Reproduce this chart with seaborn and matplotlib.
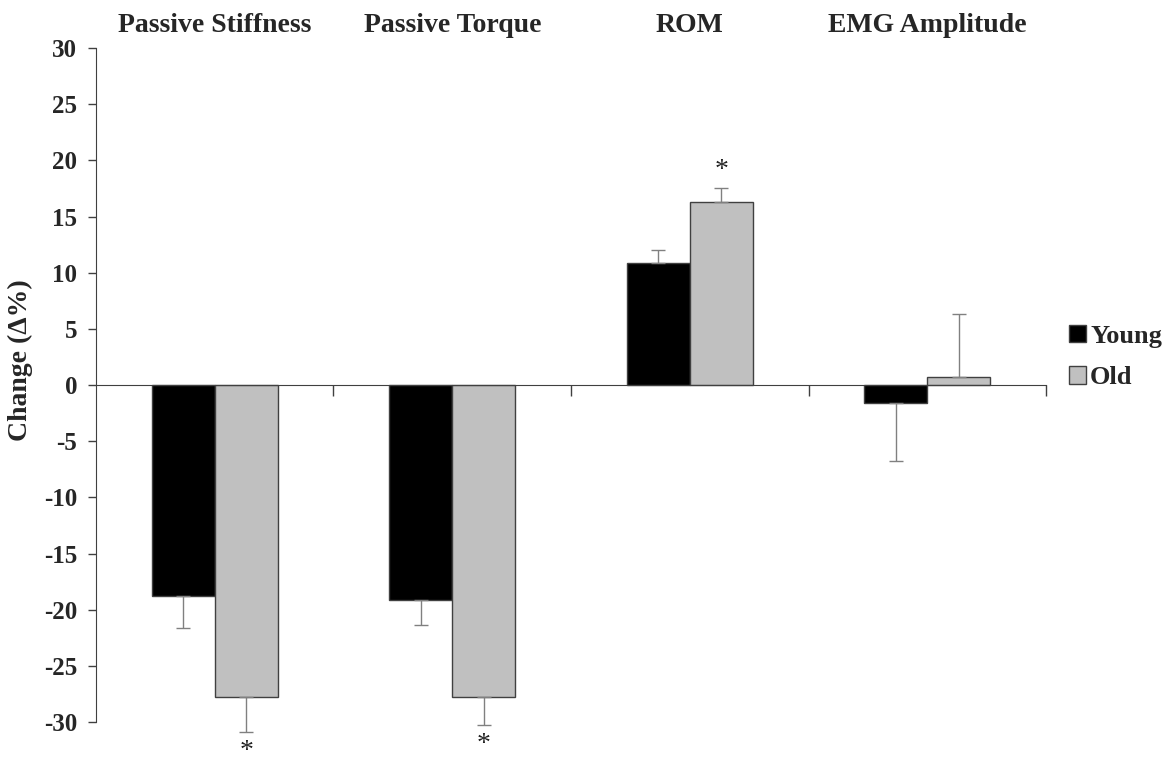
import pandas as pd
import numpy as np
import matplotlib.pyplot as plt
import seaborn as sns
from matplotlib.patches import Patch

# Data
# ==============================================================================
measures  = ["Passive Stiffness", "Passive Torque", "ROM", "EMG Amplitude"]
young     = [-18.8, -19.1, 10.9, -1.6]
old       = [-27.8, -27.8, 16.3, 0.7]
young_err = [2.8, 2.3, 1.1, 5.2]
old_err   = [3.1, 2.5, 1.2, 5.6]
signif    = [False, False, False, False], [True, True, True, False]  # young, old

df = pd.DataFrame({
    "measure": measures * 2,
    "group":   ["Young"] * 4 + ["Old"] * 4,
    "change":  young + old,
    "err":     young_err + old_err,
})

sns.set_style("white")
plt.rcParams['font.family'] = ['Liberation Serif', 'DejaVu Serif']
plt.rcParams['font.weight'] = 'bold'

fig = plt.figure(figsize=(11.73, 7.63), dpi=100)
ax = fig.add_axes([0.0818, 0.0537, 0.81, 0.8833])

colors = {"Young": "#000000", "Old": "#c0c0c0"}
sns.barplot(
    data      = df,
    x         = "measure",
    y         = "change",
    hue       = "group",
    order     = measures,
    hue_order = ["Young", "Old"],
    palette   = colors,
    width     = 0.53,
    gap       = 0,
    edgecolor = "#404040",
    linewidth = 1,
    errorbar  = None,
    legend    = False,
    ax        = ax
)

# one-sided error bars and asterisks
# ==============================================================================
for cont, errs, vals, sig in zip(ax.containers, [young_err, old_err], [young, old], signif):
    for bar, e, v, s in zip(cont.patches, errs, vals, sig):
        xc = bar.get_x() + bar.get_width() / 2
        lo = e if v < 0 else 0
        hi = e if v >= 0 else 0
        eb = ax.errorbar(xc, v, yerr=[[lo], [hi]], fmt="none", ecolor="#808080",
                         elinewidth=1, capsize=5, capthick=1)
        for art in eb.lines[1] + eb.lines[2]:
            art.set_clip_on(False)
        if s:
            ystar = v - e - 1.7 if v < 0 else v + e + 1.6
            ax.text(xc, ystar, "*", ha="center", va="center", fontsize=20,
                    fontweight="normal", color="#222222", clip_on=False)

# axes styling
# ==============================================================================
ax.set_ylim(-30, 30)
ax.set_xlim(-0.5, 3.5)
ax.set_yticks(np.arange(-30, 31, 5))
ax.set_yticklabels([str(t) for t in range(-30, 31, 5)], fontsize=18, fontweight="bold")
ax.set_xticks([0.5, 1.5, 2.5, 3.5])
ax.set_xticklabels([])
ax.tick_params(axis="y", direction="out", length=6, width=1, color="#404040", left=True, pad=7.5)
ax.tick_params(axis="x", direction="out", length=8, width=1, color="#404040", bottom=True)
for sp in ["top", "right"]:
    ax.spines[sp].set_visible(False)
ax.spines["bottom"].set_position(("data", 0))
ax.spines["bottom"].set_color("#404040")
ax.spines["left"].set_color("#404040")
ax.set_xlabel("")
ax.set_ylabel("Change (Δ%)", fontsize=20, fontweight="bold")
ax.yaxis.set_label_coords(-0.066, 0.537)

for i, m in enumerate(measures):
    ax.text(i, 31.4, m, ha="center", va="baseline", fontsize=20, fontweight="bold")

handles = [Patch(facecolor=colors[g], edgecolor="#404040", label=g) for g in ["Young", "Old"]]
fig.legend(handles=handles, loc="center left", bbox_to_anchor=(0.891, 0.532),
           frameon=False, handlelength=0.65, handleheight=0.65,
           handletextpad=0.15, labelspacing=0.7, prop={"weight": "bold", "size": 19})

plt.savefig("out.png", dpi=100)
